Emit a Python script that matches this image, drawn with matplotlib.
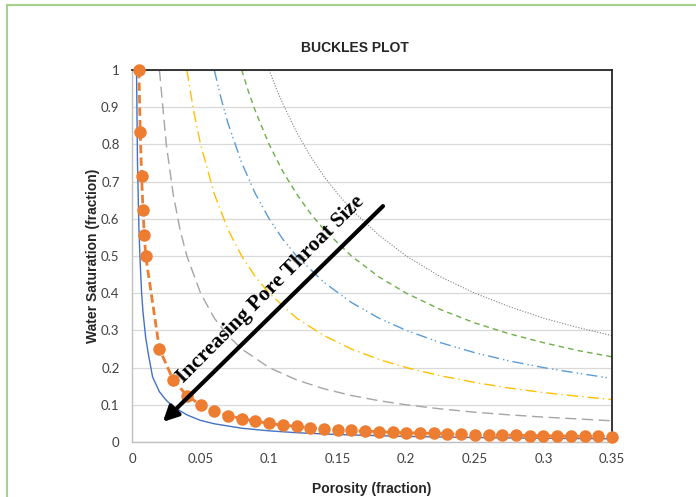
import matplotlib
matplotlib.use("Agg")
import matplotlib.pyplot as plt
from matplotlib.lines import Line2D

# ---- data ----
phi_blue = [0.0033, 0.004, 0.005, 0.006, 0.007, 0.008, 0.01, 0.012, 0.015, 0.02, 0.025, 0.03,
            0.04, 0.05, 0.06, 0.08, 0.1, 0.12, 0.15, 0.2, 0.25, 0.3, 0.35]
sw_blue = [1.0, 0.75, 0.58, 0.48, 0.4, 0.35, 0.28, 0.235, 0.175, 0.135, 0.112, 0.095,
           0.073, 0.058, 0.049, 0.037, 0.03, 0.025, 0.02, 0.015, 0.012, 0.01, 0.0086]

phi_orange = [0.005, 0.006, 0.007, 0.008, 0.009, 0.01, 0.02, 0.03, 0.04, 0.05, 0.06, 0.07, 0.08,
              0.09, 0.1, 0.11, 0.12, 0.13, 0.14, 0.15, 0.16, 0.17, 0.18, 0.19, 0.2, 0.21, 0.22,
              0.23, 0.24, 0.25, 0.26, 0.27, 0.28, 0.29, 0.3, 0.31, 0.32, 0.33, 0.34, 0.35]
sw_orange = [1.0, 0.833, 0.714, 0.625, 0.556, 0.5, 0.25, 0.167, 0.125, 0.1, 0.083, 0.071, 0.063,
             0.056, 0.05, 0.045, 0.042, 0.038, 0.036, 0.033, 0.031, 0.029, 0.028, 0.026, 0.025,
             0.024, 0.023, 0.022, 0.021, 0.02, 0.019, 0.019, 0.018, 0.017, 0.017, 0.016, 0.016,
             0.015, 0.015, 0.014]

phi_gray = [0.02, 0.025, 0.03, 0.035, 0.04, 0.05, 0.06, 0.07, 0.08, 0.1, 0.12, 0.14, 0.16, 0.18,
            0.2, 0.225, 0.25, 0.275, 0.3, 0.325, 0.35]
sw_gray = [1.0, 0.8, 0.667, 0.571, 0.5, 0.4, 0.333, 0.286, 0.25, 0.2, 0.167, 0.143, 0.125, 0.111,
           0.1, 0.089, 0.08, 0.073, 0.067, 0.062, 0.057]

phi_yellow = [0.04, 0.045, 0.05, 0.06, 0.07, 0.08, 0.09, 0.1, 0.12, 0.14, 0.16, 0.18, 0.2, 0.225,
              0.25, 0.275, 0.3, 0.325, 0.35]
sw_yellow = [1.0, 0.889, 0.8, 0.667, 0.571, 0.5, 0.444, 0.4, 0.333, 0.286, 0.25, 0.222, 0.2,
             0.178, 0.16, 0.145, 0.133, 0.123, 0.114]

phi_lblue = [0.06, 0.065, 0.07, 0.08, 0.09, 0.1, 0.11, 0.12, 0.14, 0.16, 0.18, 0.2, 0.225, 0.25,
             0.275, 0.3, 0.325, 0.35]
sw_lblue = [1.0, 0.923, 0.857, 0.75, 0.667, 0.6, 0.545, 0.5, 0.429, 0.375, 0.333, 0.3, 0.267,
            0.24, 0.218, 0.2, 0.185, 0.171]

phi_green = [0.08, 0.085, 0.09, 0.1, 0.11, 0.12, 0.13, 0.14, 0.16, 0.18, 0.2, 0.225, 0.25, 0.275,
             0.3, 0.325, 0.35]
sw_green = [1.0, 0.941, 0.889, 0.8, 0.727, 0.667, 0.615, 0.571, 0.5, 0.444, 0.4, 0.356, 0.32,
            0.291, 0.267, 0.246, 0.229]

phi_dot = [0.1, 0.105, 0.11, 0.12, 0.13, 0.14, 0.15, 0.16, 0.18, 0.2, 0.225, 0.25, 0.275, 0.3,
           0.325, 0.35]
sw_dot = [1.0, 0.952, 0.909, 0.833, 0.769, 0.714, 0.667, 0.625, 0.556, 0.5, 0.444, 0.4, 0.364,
          0.333, 0.308, 0.286]

x_ticks = [0, 0.05, 0.1, 0.15, 0.2, 0.25, 0.3, 0.35]
x_tick_labels = ["0", "0.05", "0.1", "0.15", "0.2", "0.25", "0.3", "0.35"]
y_ticks = [0, 0.1, 0.2, 0.3, 0.4, 0.5, 0.6, 0.7, 0.8, 0.9, 1]
y_tick_labels = ["0", "0.1", "0.2", "0.3", "0.4", "0.5", "0.6", "0.7", "0.8", "0.9", "1"]

title = "BUCKLES PLOT"
xlabel = "Porosity (fraction)"
ylabel = "Water Saturation (fraction)"
arrow_text = "Increasing Pore Throat Size"
arrow_start = (0.183, 0.634)
arrow_end = (0.0225, 0.054)

# ---- figure ----
fig = plt.figure(figsize=(6.96, 4.97), dpi=100)
ax = fig.add_axes([132 / 696, 55 / 497, 480 / 696, 372 / 497])

tick_font = ["Lato", "DejaVu Sans"]

ax.plot(phi_dot, sw_dot, color="#7f7f7f", lw=0.8, linestyle=(0, (1, 1.5)))
ax.plot(phi_green, sw_green, color="#70ad47", lw=1.0, linestyle=(0, (4, 3)))
ax.plot(phi_lblue, sw_lblue, color="#5b9bd5", lw=1.0, linestyle=(0, (8, 3, 1, 2, 1, 3)))
ax.plot(phi_yellow, sw_yellow, color="#ffc000", lw=1.0, linestyle=(0, (8, 3, 1, 3)))
ax.plot(phi_gray, sw_gray, color="#a5a5a5", lw=1.0, linestyle=(0, (8, 4)))
ax.plot(phi_blue, sw_blue, color="#4472c4", lw=1.0, solid_capstyle="round")
ax.plot(phi_orange, sw_orange, color="#ed7d31", lw=2.0, linestyle=(0, (3, 1.5)),
        marker="o", markersize=9, markeredgewidth=0, clip_on=False, zorder=5)

ax.set_xlim(0, 0.35)
ax.set_ylim(0, 1)
ax.set_xticks(x_ticks)
ax.set_xticklabels(x_tick_labels, fontfamily=tick_font, fontsize=9.5, color="#404040")
ax.set_yticks(y_ticks)
ax.set_yticklabels(y_tick_labels, fontfamily=tick_font, fontsize=9.5, color="#404040")
ax.tick_params(length=0, pad=9)
ax.tick_params(axis="x", pad=8)
ax.grid(axis="y", color="#d9d9d9", lw=0.9)
ax.set_axisbelow(True)
for s in ["left", "bottom"]:
    ax.spines[s].set_color("#bfbfbf")
    ax.spines[s].set_linewidth(1.0)
for s in ["top", "right"]:
    ax.spines[s].set_color("#262626")
    ax.spines[s].set_linewidth(1.3)

ax.set_xlabel(xlabel, fontfamily=["Liberation Sans", "DejaVu Sans"], fontweight="bold",
              fontsize=10, color="#262626", labelpad=12)
ax.set_ylabel(ylabel, fontfamily=["Liberation Sans", "DejaVu Sans"], fontweight="bold",
              fontsize=10, color="#262626", labelpad=1)

fig.text(355 / 696, 1 - 48 / 497, title, ha="center", va="center",
         fontfamily=["Liberation Sans Narrow", "Liberation Sans", "DejaVu Sans"],
         fontweight="bold", fontsize=10, color="#262626")

ax.annotate("", xy=arrow_end, xytext=arrow_start,
            arrowprops=dict(arrowstyle="-|>,head_length=0.9,head_width=0.45",
                            color="black", lw=3, shrinkA=0, shrinkB=0), zorder=6)
ax.text(0.101, 0.411, arrow_text, rotation=45, rotation_mode="anchor",
        ha="center", va="center", fontfamily=["Liberation Serif", "DejaVu Serif"],
        fontweight="bold", fontsize=15.5, color="black", zorder=6)

# outer green frame (left and top edges visible)
fig.add_artist(Line2D([7 / 696, 7 / 696], [0, 1 - 5 / 497], transform=fig.transFigure,
                      color="#a9d18e", lw=1.5))
fig.add_artist(Line2D([7 / 696, 1], [1 - 5 / 497, 1 - 5 / 497], transform=fig.transFigure,
                      color="#a9d18e", lw=1.5))

fig.savefig("out.png", dpi=100)
